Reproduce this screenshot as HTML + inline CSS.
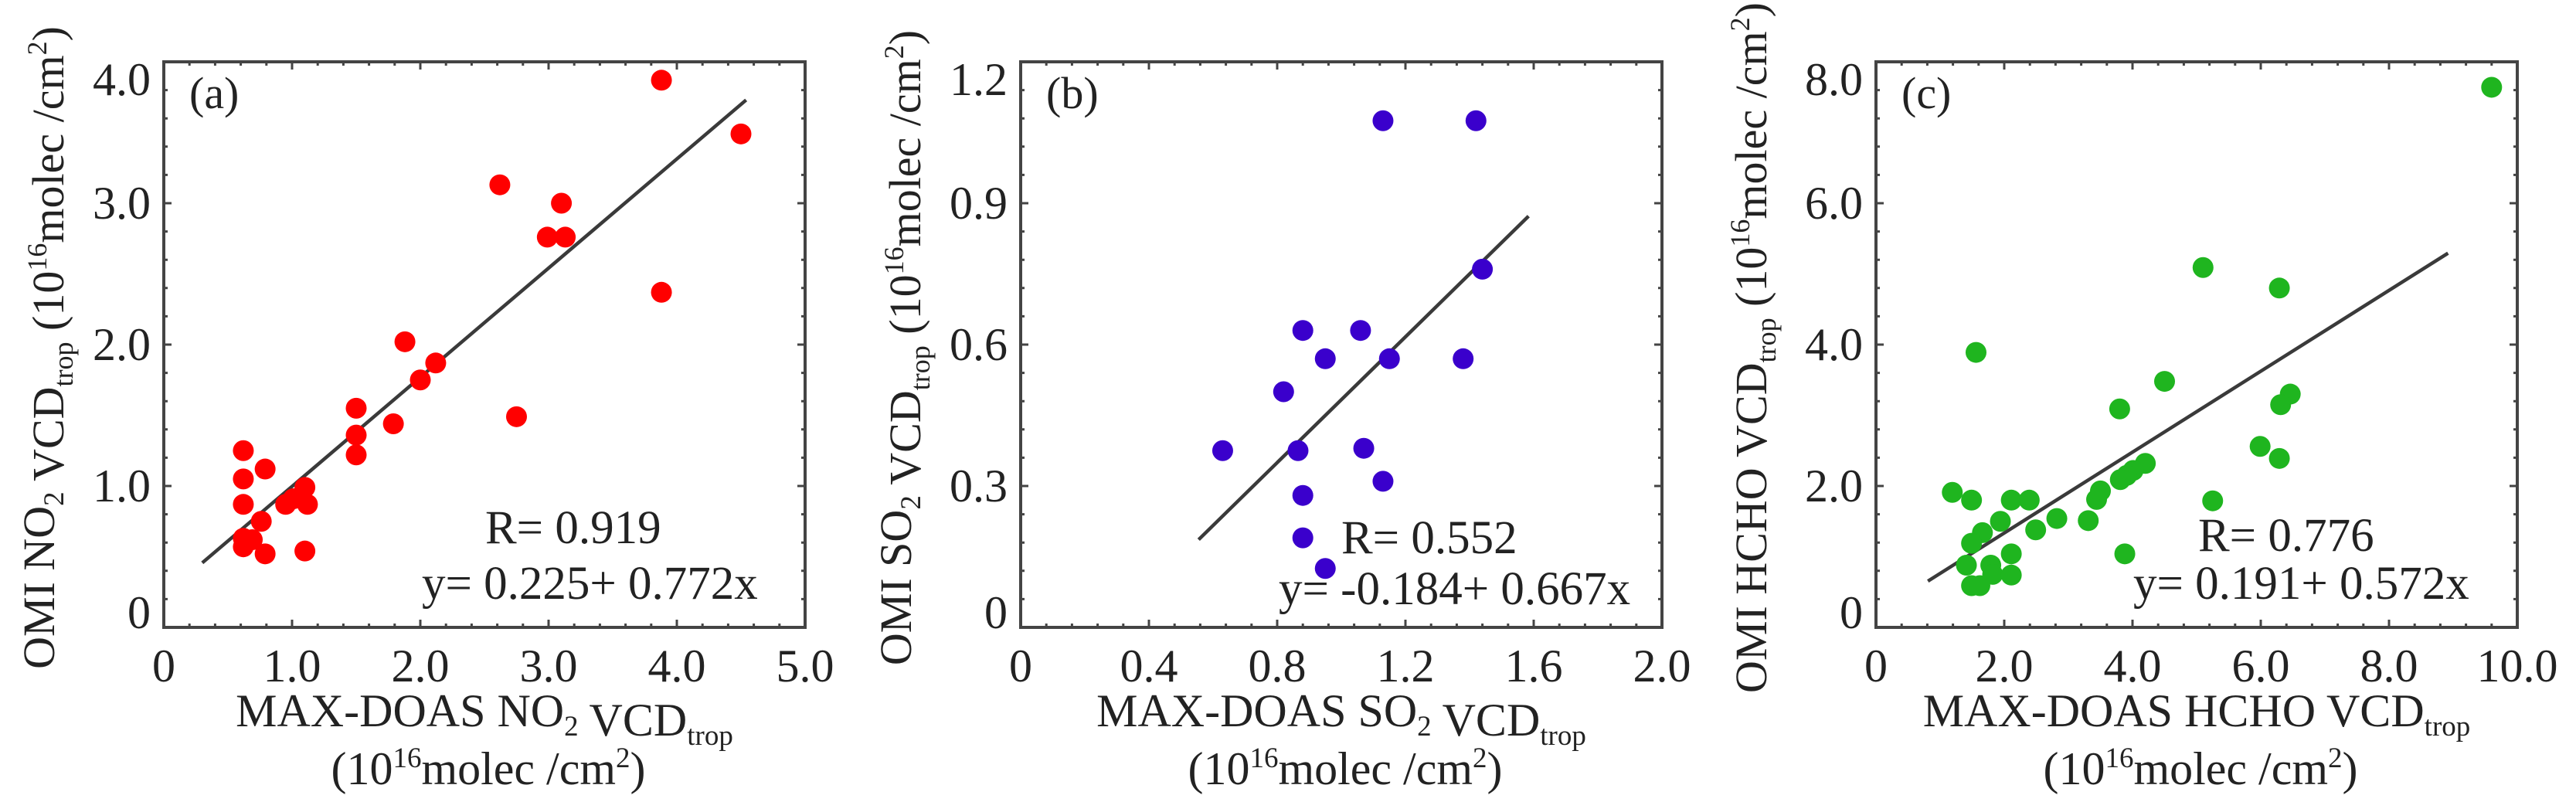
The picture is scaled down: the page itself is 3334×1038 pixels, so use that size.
<!DOCTYPE html>
<html><head><meta charset="utf-8"><style>
html,body{margin:0;padding:0;background:#fff;}
svg{display:block;font-family:"Liberation Serif",serif;}
</style></head><body>
<svg id="fig" width="3334" height="1038" viewBox="0 0 3334 1038" xmlns="http://www.w3.org/2000/svg"></svg>
<script>
// Panel (a) NO2
const aX = [0.62,0.62,0.62,0.79,0.76,0.62,0.69,0.62,0.79,1.10,0.95,1.01,1.10,1.12,1.50,1.50,1.50,1.79,1.88,2.00,2.12,2.62,2.75,2.99,3.10,3.13,3.88,3.88,4.50];
const aY = [1.25,1.05,0.87,1.12,0.75,0.63,0.62,0.57,0.52,0.54,0.87,0.91,0.99,0.87,1.55,1.36,1.22,1.44,2.02,1.75,1.87,3.13,1.49,2.76,3.00,2.76,3.87,2.37,3.49];
const aXTicks = ["0","1.0","2.0","3.0","4.0","5.0"];
const aYTicks = ["0","1.0","2.0","3.0","4.0"];
const aFit = [0.225, 0.772, 0.30, 4.54];
// Panel (b) SO2
const bX = [1.13,1.42,1.44,0.88,1.06,0.95,1.15,1.38,0.82,0.63,0.865,1.07,1.13,0.88,0.88,0.95];
const bY = [1.075,1.075,0.76,0.63,0.63,0.57,0.57,0.57,0.50,0.375,0.375,0.38,0.31,0.28,0.19,0.125];
const bXTicks = ["0","0.4","0.8","1.2","1.6","2.0"];
const bYTicks = ["0","0.3","0.6","0.9","1.2"];
const bFit = [-0.184, 0.667, 0.555, 1.584];
// Panel (c) HCHO
const cX = [9.6,5.1,6.29,1.56,4.5,6.46,6.31,3.8,5.99,6.29,4.2,4.01,3.91,3.81,3.5,3.44,1.19,1.49,2.11,2.39,5.25,1.94,2.82,3.31,1.66,2.49,1.49,2.11,3.88,1.41,1.79,1.82,2.11,1.49,1.62];
const cY = [7.64,5.09,4.8,3.89,3.48,3.3,3.15,3.09,2.56,2.39,2.32,2.22,2.15,2.09,1.93,1.81,1.91,1.8,1.8,1.8,1.79,1.5,1.54,1.51,1.34,1.38,1.19,1.04,1.04,0.88,0.88,0.75,0.74,0.59,0.59];
const cXTicks = ["0","2.0","4.0","6.0","8.0","10.0"];
const cYTicks = ["0","2.0","4.0","6.0","8.0"];
const cFit = [0.191, 0.572, 0.81, 8.92];

const NS = "http://www.w3.org/2000/svg";
const svg = document.getElementById('fig');
function mk(tag, attrs, parent){
  const e = document.createElementNS(NS, tag);
  for (const k in attrs) e.setAttribute(k, attrs[k]);
  (parent||svg).appendChild(e);
  return e;
}
const TOP = 80, BOT = 812, W = 830;

function panel(cfg){
  const L = cfg.left, R = L + W;
  const g = mk('g', {});
  
  
  const xmax = parseFloat(cfg.xt[cfg.xt.length-1]);
  const ymax = parseFloat(cfg.yt[cfg.yt.length-1]);
  const sx = v => L + v / xmax * W;
  const sy = v => BOT - v / ymax * (BOT - TOP);
  const nx = cfg.xt.length - 1, ny = cfg.yt.length - 1;
  let d = '';
  for (let i = 0; i <= nx * 5; i++) {
    const x = L + i * W / (nx * 5), len = (i % 5 === 0) ? 10 : 5;
    d += `M${x},${BOT}v${-len}M${x},${TOP}v${len}`;
  }
  for (let i = 0; i <= ny * 5; i++) {
    const y = BOT - i * (BOT - TOP) / (ny * 5), len = (i % 5 === 0) ? 10 : 5;
    d += `M${L},${y}h${len}M${R},${y}h${-len}`;
  }
  const tk = mk('path', {d: d, stroke: '#444', 'stroke-width': 3, fill: 'none'}, g);
  
  
  const f = cfg.fit;
  const ln = mk('line', {x1: sx(f[2]), y1: sy(f[0] + f[1]*f[2]), x2: sx(f[3]), y2: sy(f[0] + f[1]*f[3]), stroke: '#3a3a3a', 'stroke-width': 4.5}, g);
  
  
  for (let i = 0; i < cfg.xs.length; i++) {
    const c = mk('circle', {cx: sx(cfg.xs[i]), cy: sy(cfg.ys[i]), r: 13.5, fill: cfg.color}, g);
    
    
  }
  const fr = mk('rect', {x: L, y: TOP, width: W, height: BOT - TOP, fill: 'none', stroke: '#444', 'stroke-width': 4}, g);
  
  
  cfg.xt.forEach((t, i) => {
    const e = mk('text', {x: L + i * W / nx, y: 882, 'font-size': 60, 'text-anchor': 'middle', fill: '#222'}, g);
    e.textContent = t;
    
    
  });
  cfg.yt.forEach((t, i) => {
    let y = BOT - i * (BOT - TOP) / ny;
    y = Math.max(TOP + 23, Math.min(BOT - 19, y));
    const e = mk('text', {x: L - 17, y: y + 20, 'font-size': 60, 'text-anchor': 'end', fill: '#222'}, g);
    e.textContent = t;
    
    
  });
  const pl = mk('text', {x: L + 33, y: 140, 'font-size': 58, fill: '#222'}, g);
  pl.textContent = '(' + cfg.id + ')';
  
  
  const rt = mk('text', {x: cfg.rx, y: cfg.ry, 'font-size': 61, fill: '#222'}, g);
  rt.textContent = cfg.rtext;
  
  
  const et = mk('text', {x: cfg.ex, y: cfg.ey, 'font-size': 61, fill: '#222'}, g);
  et.textContent = cfg.etext;
  
  
  const xt1 = mk('text', {x: L + W/2, y: 940, 'font-size': 60, 'text-anchor': 'middle', fill: '#222'}, g);
  xt1.innerHTML = 'MAX-DOAS ' + cfg.sp + ' VCD<tspan font-size="37" dy="12">trop</tspan>';
  
  
  const xt2 = mk('text', {x: L + W/2 + 5, y: 1015, 'font-size': 60, 'text-anchor': 'middle', fill: '#222'}, g);
  xt2.innerHTML = '(10<tspan font-size="37" dy="-22">16</tspan><tspan dy="22">molec /cm</tspan><tspan font-size="37" dy="-22">2</tspan><tspan dy="22">)</tspan>';
  
  
  const yt = mk('text', {x: 0, y: 0, 'font-size': 58, 'text-anchor': 'middle', fill: '#222', transform: `translate(${L - 142},${(TOP+BOT)/2 + 4}) rotate(-90)`}, g);
  yt.innerHTML = 'OMI ' + cfg.sp + ' VCD<tspan font-size="36" dy="12">trop</tspan><tspan dy="-12"> (10</tspan><tspan font-size="36" dy="-22">16</tspan><tspan dy="22">molec /cm</tspan><tspan font-size="36" dy="-22">2</tspan><tspan dy="22">)</tspan>';
  
  
}
const sub2 = '<tspan font-size="37" dy="12">2</tspan><tspan dy="-12"></tspan>';
panel({id:'a', left:212, xs:aX, ys:aY, xt:aXTicks, yt:aYTicks, fit:aFit, color:'#ff0000',
  rx:628, ry:703, rtext:'R= 0.919', ex:546, ey:775, etext:'y= 0.225+ 0.772x', sp:'NO'+sub2});
panel({id:'b', left:1321, xs:bX, ys:bY, xt:bXTicks, yt:bYTicks, fit:bFit, color:'#3a00cc',
  rx:1736, ry:716, rtext:'R= 0.552', ex:1655, ey:782, etext:'y= -0.184+ 0.667x', sp:'SO'+sub2});
panel({id:'c', left:2428, xs:cX, ys:cY, xt:cXTicks, yt:cYTicks, fit:cFit, color:'#1fb51f',
  rx:2845, ry:713, rtext:'R= 0.776', ex:2761, ey:775, etext:'y= 0.191+ 0.572x', sp:'HCHO'});
</script>
</body></html>
